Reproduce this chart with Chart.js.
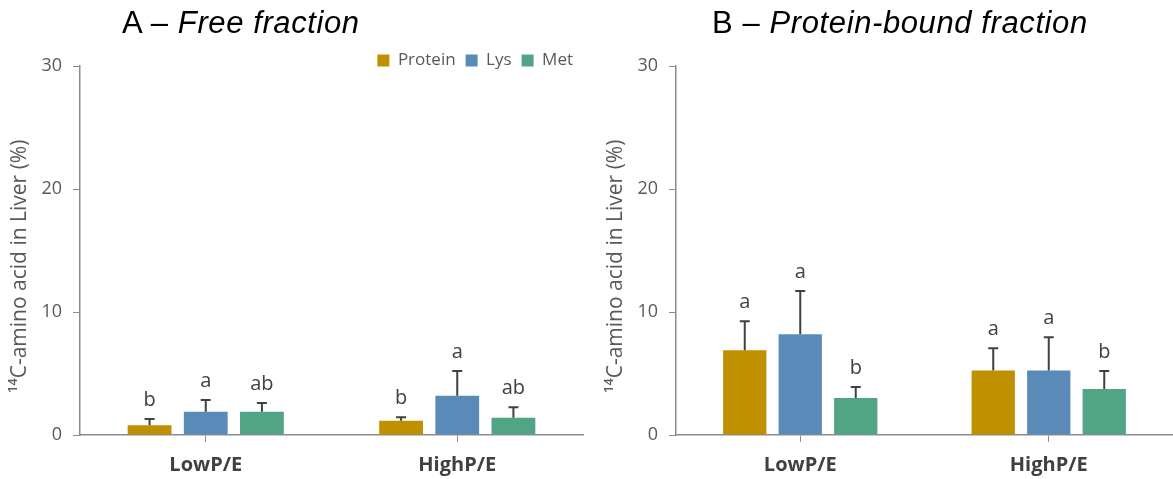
<!DOCTYPE html>
<html>
<head>
<meta charset="utf-8">
<script src="https://cdn.jsdelivr.net/npm/chart.js@4.4.0/dist/chart.umd.min.js"></script>
<style>
  body { margin: 0; background: #fff; width: 1173px; height: 479px; overflow: hidden; position: relative; }
  .box { position: absolute; top: 0; height: 479px; }
  .title { position: absolute; top: 5px; font-size: 31px; letter-spacing: 0.6px; color: #000; font-family: 'Liberation Sans', Arial, sans-serif; white-space: nowrap; }
</style>
</head>
<body>
<div class="box" style="left:0;width:590px"><canvas id="freeChart"></canvas></div>
<div class="box" style="left:596px;width:577px"><canvas id="boundChart"></canvas></div>
<div class="title" style="left:122px">A – <i>Free fraction</i></div>
<div class="title" style="left:712px">B – <i>Protein-bound fraction</i></div>
<script>
// datos
const grupos = ['LowP/E', 'HighP/E'];
const yTicks = [0, 10, 20, 30];

// A - Free fraction
const freeProtein = [0.8, 1.15];
const freeProteinErr = [0.5, 0.3];
const freeLys = [1.9, 3.2];
const freeLysErr = [0.95, 2.0];
const freeMet = [1.9, 1.4];
const freeMetErr = [0.7, 0.85];
const freeLetras = [['b', 'b'], ['a', 'a'], ['ab', 'ab']];

// B - Protein-bound fraction
const boundProtein = [6.9, 5.25];
const boundProteinErr = [2.35, 1.8];
const boundLys = [8.2, 5.25];
const boundLysErr = [3.5, 2.7];
const boundMet = [3.0, 3.75];
const boundMetErr = [0.9, 1.45];
const boundLetras = [['a', 'a'], ['a', 'a'], ['b', 'b']];

const colores = ['#BF9000', '#5A8AB8', '#52A584'];
const fuente = "'Open Sans', sans-serif";
const gris = '#8c8c8c';

// barras de error + letras
const errorBars = {
  id: 'errorBars',
  afterDatasetsDraw(chart) {
    const ctx = chart.ctx;
    const y = chart.scales.y;
    chart.data.datasets.forEach((ds, i) => {
      chart.getDatasetMeta(i).data.forEach((bar, j) => {
        const top = y.getPixelForValue(ds.data[j] + ds.errores[j]);
        ctx.save();
        ctx.strokeStyle = '#404040';
        ctx.lineWidth = 2;
        ctx.beginPath();
        ctx.moveTo(bar.x, bar.y);
        ctx.lineTo(bar.x, top);
        ctx.moveTo(bar.x - 5, top);
        ctx.lineTo(bar.x + 5, top);
        ctx.stroke();
        ctx.fillStyle = '#404040';
        ctx.font = '20px ' + fuente;
        ctx.textAlign = 'center';
        ctx.textBaseline = 'alphabetic';
        ctx.fillText(ds.letras[j], bar.x, top - 13);
        ctx.restore();
      });
    });
  }
};

// la leyenda va un poco más abajo, casi encima del área del gráfico
const bajarLeyenda = {
  id: 'bajarLeyenda',
  afterLayout(chart) {
    if (chart.options.plugins.legend.display) {
      chart.legend.top += 13;
      chart.legend.bottom += 13;
    }
  }
};

function crearGrafico(id, series, errores, letras, conLeyenda) {
  const nombres = ['Protein', 'Lys', 'Met'];
  return new Chart(document.getElementById(id), {
    type: 'bar',
    data: {
      labels: grupos,
      datasets: series.map((s, i) => ({
        label: nombres[i],
        data: s,
        errores: errores[i],
        letras: letras[i],
        backgroundColor: colores[i],
        categoryPercentage: 0.67,
        barPercentage: 0.78
      }))
    },
    options: {
      responsive: true,
      maintainAspectRatio: false,
      animation: false,
      layout: { padding: { top: conLeyenda ? 29 : 66, right: conLeyenda ? 7 : 0, left: 0, bottom: 0 } },
      plugins: {
        tooltip: { enabled: false },
        legend: {
          display: conLeyenda,
          position: 'top',
          align: 'end',
          labels: { boxWidth: 12, boxHeight: 12, padding: 10, color: '#595959', font: { size: 17, family: fuente } }
        }
      },
      scales: {
        x: {
          afterFit(scale) { scale.height = 44; },
          grid: { drawOnChartArea: false, offset: false, tickLength: 7, color: gris },
          border: { color: gris, width: 1.5 },
          ticks: { color: '#404040', padding: 11, font: { size: 20, weight: 'bold', family: fuente } }
        },
        y: {
          min: 0, max: 30,
          afterFit(scale) { scale.width = 80; },
          afterBuildTicks(scale) { scale.ticks = yTicks.map(v => ({ value: v })); },
          grid: { drawOnChartArea: false, tickLength: 7, color: gris },
          border: { color: gris, width: 1.5 },
          ticks: { color: '#595959', padding: 11, font: { size: 18, family: fuente } },
          title: {
            display: true,
            text: '¹⁴C-amino acid in Liver (%)\u2002\u2002\u2002',
            color: '#595959',
            padding: { top: 7, bottom: 0 },
            font: { size: 21, family: fuente }
          }
        }
      }
    },
    plugins: [errorBars, bajarLeyenda]
  });
}

crearGrafico('freeChart',
  [freeProtein, freeLys, freeMet],
  [freeProteinErr, freeLysErr, freeMetErr],
  freeLetras, true);

crearGrafico('boundChart',
  [boundProtein, boundLys, boundMet],
  [boundProteinErr, boundLysErr, boundMetErr],
  boundLetras, false);
</script>
</body>
</html>
